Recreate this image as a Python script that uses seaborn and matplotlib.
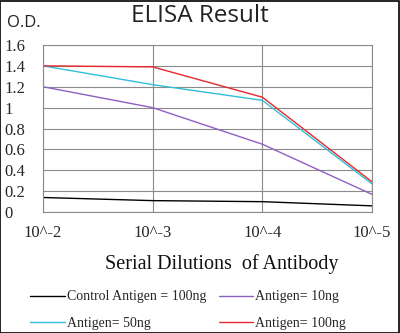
import matplotlib
matplotlib.use("Agg")
import matplotlib.pyplot as plt
import seaborn as sns
import pandas as pd
from matplotlib.patches import Rectangle

dilutions = ["10^-2", "10^-3", "10^-4", "10^-5"]
series_names = ["Control Antigen = 100ng", "Antigen= 10ng", "Antigen= 50ng", "Antigen= 100ng"]
control = [0.14, 0.11, 0.10, 0.06]
ag10 = [1.20, 1.00, 0.65, 0.17]
ag50 = [1.40, 1.22, 1.07, 0.27]
ag100 = [1.40, 1.39, 1.10, 0.29]
yticks = [0, 0.2, 0.4, 0.6, 0.8, 1, 1.2, 1.4, 1.6]
colors = ["#000000", "#8e5fc4", "#2fc0d8", "#e8282e"]

rows = []
for name, vals in zip(series_names, [control, ag10, ag50, ag100]):
    for i, v in enumerate(vals):
        rows.append({"pos": i, "od": v, "series": name})
df = pd.DataFrame(rows)

sns.set_theme(style="white")
plt.rcParams['font.family'] = ['Liberation Serif', 'DejaVu Serif']

fig = plt.figure(figsize=(4.0, 3.33), dpi=100)
ax = fig.add_axes([0.1075, 0.363, 0.8225, 0.502])
sns.lineplot(data=df, x="pos", y="od", hue="series", palette=colors,
             hue_order=series_names, ax=ax, linewidth=1.0, legend=False)

ax.set_xlim(0, 3)
ax.set_ylim(0, 1.6)
ax.set_xticks(range(len(dilutions)))
ax.set_xticklabels(dilutions, fontsize=12)
ax.set_yticks(yticks)
ax.set_yticklabels([f"{t:g}" for t in yticks], fontsize=12, ha="left")
ax.tick_params(axis="y", pad=27.5, length=0)
ax.tick_params(axis="x", pad=9, length=0)
ax.grid(True, color="#8a8a8a", linewidth=0.8)
for s in ax.spines.values():
    s.set_color("#8a8a8a")
    s.set_linewidth(0.8)
ax.set_xlabel("")
ax.set_ylabel("")

fig.text(0.5, 0.952, "ELISA Result", ha="center", va="center", fontsize=17.5,
         family=["Open Sans", "DejaVu Sans"], color="#222222")
fig.text(0.018, 0.93, "O.D.", ha="left", va="center", fontsize=12,
         family=["Open Sans", "DejaVu Sans"], color="#222222")
fig.text(0.555, 0.208, "Serial Dilutions  of Antibody", ha="center", va="center",
         fontsize=14.5, color="#111111")

order = [0, 2, 1, 3]
handles = [plt.Line2D([], [], color=colors[i], linewidth=1.0) for i in order]
labels = [series_names[i] for i in order]
leg = fig.legend(handles, labels, loc="center left", ncol=2,
                 bbox_to_anchor=(0.075, 0.069), frameon=False, fontsize=10,
                 handlelength=2.5, handletextpad=0.15, columnspacing=0.9,
                 labelspacing=0.95, borderaxespad=0, borderpad=0)

fig.patches.append(Rectangle((0.001, 0.001), 0.997, 0.997, transform=fig.transFigure,
                             fill=False, edgecolor="black", linewidth=1.2))
fig.savefig("out.png", dpi=100)
